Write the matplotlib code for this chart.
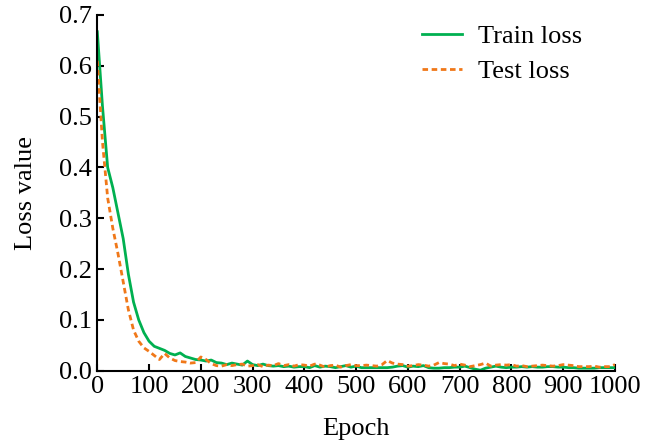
import numpy as np
import matplotlib.pyplot as plt

# epochs sampled every 10
epoch = np.arange(0, 1001, 10)

train_loss = [0.667, 0.52, 0.40, 0.36, 0.31, 0.26, 0.19, 0.135, 0.10, 0.075,
              0.058, 0.048, 0.044, 0.040, 0.034, 0.031, 0.035, 0.028, 0.025, 0.022,
              0.021, 0.019, 0.021, 0.016, 0.015, 0.012, 0.015, 0.013, 0.011, 0.019,
              0.012, 0.010, 0.013, 0.010, 0.009, 0.010, 0.008, 0.009, 0.007, 0.008,
              0.008, 0.006, 0.010, 0.007, 0.009, 0.008, 0.006, 0.008, 0.010, 0.007,
              0.009, 0.006, 0.006, 0.006, 0.006, 0.006, 0.006, 0.007, 0.009, 0.010,
              0.007, 0.009, 0.008, 0.010, 0.006, 0.005, 0.005, 0.006, 0.006, 0.007,
              0.007, 0.009, 0.006, 0.003, 0.001, 0.005, 0.007, 0.009, 0.007, 0.006,
              0.007, 0.007, 0.008, 0.007, 0.008, 0.007, 0.007, 0.008, 0.008, 0.007,
              0.007, 0.006, 0.006, 0.005, 0.005, 0.005, 0.005, 0.006, 0.006, 0.006,
              0.006]

test_loss = [0.61, 0.45, 0.34, 0.28, 0.23, 0.175, 0.12, 0.08, 0.058, 0.045,
             0.038, 0.030, 0.022, 0.034, 0.025, 0.020, 0.018, 0.017, 0.015, 0.016,
             0.027, 0.022, 0.014, 0.010, 0.009, 0.012, 0.010, 0.012, 0.013, 0.009,
             0.010, 0.012, 0.008, 0.011, 0.010, 0.014, 0.010, 0.012, 0.009, 0.012,
             0.011, 0.009, 0.013, 0.011, 0.007, 0.010, 0.011, 0.007, 0.010, 0.012,
             0.010, 0.010, 0.011, 0.010, 0.009, 0.012, 0.020, 0.015, 0.013, 0.012,
             0.009, 0.010, 0.012, 0.011, 0.009, 0.011, 0.016, 0.014, 0.013, 0.010,
             0.013, 0.011, 0.008, 0.010, 0.012, 0.015, 0.009, 0.011, 0.012, 0.011,
             0.012, 0.009, 0.010, 0.008, 0.009, 0.010, 0.011, 0.010, 0.009, 0.010,
             0.012, 0.011, 0.010, 0.008, 0.008, 0.008, 0.009, 0.007, 0.008, 0.008,
             0.012]

plt.rcParams['font.family'] = ['Liberation Serif', 'DejaVu Serif']
plt.rcParams['font.size'] = 19

fig = plt.figure(figsize=(6.47, 4.41), dpi=100)
ax = fig.add_axes([0.1504, 0.1594, 0.8001, 0.8066])

ax.plot(epoch, train_loss, color='#00B050', lw=2.0, label='Train loss')
ax.plot(epoch, test_loss, color='#F07819', lw=2.0, linestyle=(0, (2, 1.3)), label='Test loss')

ax.set_xlim(0, 1000)
ax.set_ylim(0, 0.7)
ax.set_xticks(np.arange(0, 1001, 100))
ax.set_yticks(np.arange(0, 0.71, 0.1))
ax.set_yticklabels(['%.1f' % v for v in np.arange(0, 0.71, 0.1)])
ax.tick_params(direction='in', length=5, width=1.5, pad=4)
for s in ['top', 'right']:
    ax.spines[s].set_visible(False)
for s in ['left', 'bottom']:
    ax.spines[s].set_linewidth(1.5)

ax.set_xlabel('Epoch', labelpad=14)
ax.set_ylabel('Loss value', labelpad=16)
ax.legend(loc='upper right', frameon=False, handlelength=1.5, handletextpad=0.6,
          labelspacing=0.45, borderaxespad=0.0, bbox_to_anchor=(0.956, 1.003))

fig.savefig('out.png', dpi=100)
